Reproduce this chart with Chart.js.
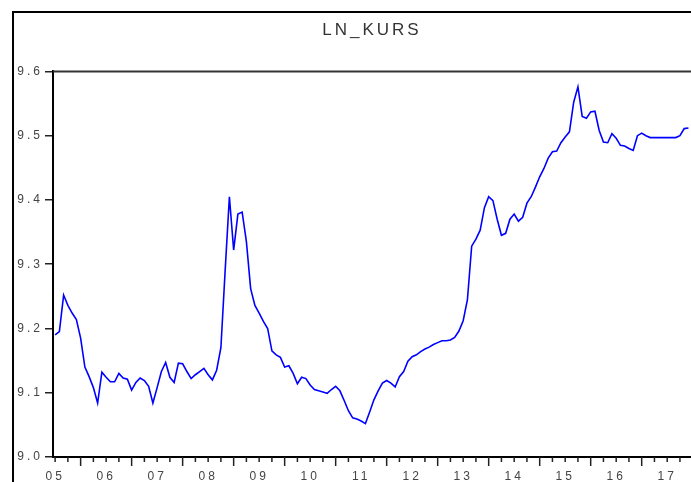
<!DOCTYPE html>
<html>
<head>
<meta charset="utf-8">
<title>LN_KURS</title>
<script src="https://cdn.jsdelivr.net/npm/chart.js@4.4.1/dist/chart.umd.min.js"></script>
<style>
  html, body { margin: 0; padding: 0; background: #fff; overflow: hidden; }
  #wrap { position: relative; width: 691px; height: 482px; }
</style>
</head>
<body>
<div id="wrap"><canvas id="chart" width="691" height="482"></canvas></div>
<script>
// monthly obs, 2005M07 .. 2017M12
const startYear = 2005, startMonth = 7;
const months = [];
for (let i = 0; i < 150; i++) {
  const m = startMonth - 1 + i;
  const y = startYear + Math.floor(m / 12);
  months.push(y + '-' + String(m % 12 + 1).padStart(2, '0'));
}

const lnKurs = [
  9.190, 9.195, 9.252, 9.236, 9.224, 9.214, 9.185, 9.140, 9.125, 9.108,
  9.084, 9.132, 9.124, 9.117, 9.117, 9.130, 9.123, 9.121, 9.104, 9.116,
  9.123, 9.119, 9.110, 9.084, 9.108, 9.133, 9.147, 9.124, 9.116, 9.146,
  9.145, 9.133, 9.122, 9.128, 9.133, 9.138, 9.128, 9.120, 9.135, 9.170,
  9.290, 9.405, 9.322, 9.378, 9.381, 9.335, 9.262, 9.236, 9.224, 9.211,
  9.200, 9.165, 9.159, 9.155, 9.140, 9.142, 9.130, 9.114, 9.124, 9.122,
  9.112, 9.105, 9.103, 9.101, 9.099, 9.105, 9.110, 9.103, 9.088, 9.072,
  9.061, 9.059, 9.056, 9.052, 9.070, 9.089, 9.103, 9.115, 9.119, 9.115,
  9.109, 9.125, 9.133, 9.149, 9.156, 9.159, 9.164, 9.168, 9.171, 9.175,
  9.178, 9.181, 9.181, 9.182, 9.186, 9.196, 9.212, 9.245, 9.328, 9.339,
  9.353, 9.388, 9.405, 9.399, 9.370, 9.345, 9.348, 9.370, 9.378, 9.367,
  9.373, 9.395, 9.405, 9.420, 9.436, 9.449, 9.465, 9.475, 9.476, 9.489,
  9.498, 9.506, 9.552, 9.576, 9.530, 9.527, 9.537, 9.538, 9.508, 9.490,
  9.489, 9.503, 9.496, 9.485, 9.484, 9.480, 9.477, 9.500, 9.504, 9.500,
  9.497, 9.497, 9.497, 9.497, 9.497, 9.497, 9.497, 9.500, 9.511, 9.512
];

const yearLabels = ['05','06','07','08','09','10','11','12','13','14','15','16','17'];
// year label sits on the July obs of each year
const yearTickIdx = yearLabels.map(y => months.indexOf('20' + y + '-07'));

Chart.defaults.font.family = 'Arial, "Liberation Sans", sans-serif';

// EViews-ish frame, plot box top and month ticks on the date axis
const framePlugin = {
  id: 'frame',
  beforeDraw(chart) {
    const c = chart.ctx;
    c.letterSpacing = '3px';   // eviews text is spread out
    c.save();
    c.fillStyle = '#fff';
    c.fillRect(0, 0, chart.width, chart.height);
    c.restore();
  },
  afterDraw(chart) {
    const { ctx, chartArea: a, scales: { x } } = chart;
    ctx.save();
    ctx.strokeStyle = '#000';
    ctx.lineWidth = 2;
    ctx.beginPath();
    ctx.moveTo(13, chart.height);
    ctx.lineTo(13, 12);
    ctx.lineTo(chart.width, 12);
    ctx.stroke();

    ctx.strokeStyle = '#333';
    ctx.beginPath();
    ctx.moveTo(a.left, a.top);
    ctx.lineTo(chart.width, a.top);
    ctx.stroke();

    ctx.strokeStyle = '#222';
    ctx.lineWidth = 1.5;
    months.forEach((m, i) => {
      const mo = +m.slice(5);
      if ((mo - 1) % 3) return;
      const px = x.getPixelForValue(i);
      const len = mo === 1 ? 9 : 5;
      ctx.beginPath();
      ctx.moveTo(px, a.bottom);
      ctx.lineTo(px, a.bottom + len);
      ctx.stroke();
    });
    ctx.restore();
  }
};

new Chart(document.getElementById('chart'), {
  type: 'line',
  data: {
    datasets: [{
      label: 'LN_KURS',
      data: lnKurs.map((v, i) => ({ x: i, y: v })),
      borderColor: '#0000ff',
      borderWidth: 1.6,
      pointRadius: 0,
      tension: 0,
      fill: false
    }]
  },
  options: {
    responsive: false,
    animation: false,
    events: [],
    layout: { padding: 0 },
    plugins: {
      legend: { display: false },
      tooltip: { enabled: false },
      title: {
        display: true,
        text: 'LN_KURS',
        fullSize: false,
        color: '#333',
        font: { size: 17, weight: 'normal' },
        padding: { top: 20, bottom: 31 }
      }
    },
    scales: {
      x: {
        type: 'linear',
        min: -0.5,
        max: 149.6,
        afterFit(s) { s.height = 25; },
        afterBuildTicks(s) { s.ticks = yearTickIdx.map(v => ({ value: v })); },
        border: { display: true, color: '#000', width: 2 },
        grid: { drawOnChartArea: false, drawTicks: false, color: 'rgba(0,0,0,0)' },
        ticks: {
          autoSkip: false,
          maxRotation: 0,
          padding: 12,
          color: '#444',
          font: { size: 12 },
          callback: v => yearLabels[yearTickIdx.indexOf(v)]
        }
      },
      y: {
        min: 9.0,
        max: 9.6,
        afterFit(s) { s.width = 53; },
        border: { display: true, color: '#000', width: 2 },
        grid: { drawOnChartArea: false, drawTicks: true, tickLength: 8, color: '#222', lineWidth: 1.5 },
        ticks: {
          stepSize: 0.1,
          padding: 2,
          color: '#444',
          font: { size: 12 },
          callback: v => v.toFixed(1)
        }
      }
    }
  },
  plugins: [framePlugin]
});
</script>
</body>
</html>
